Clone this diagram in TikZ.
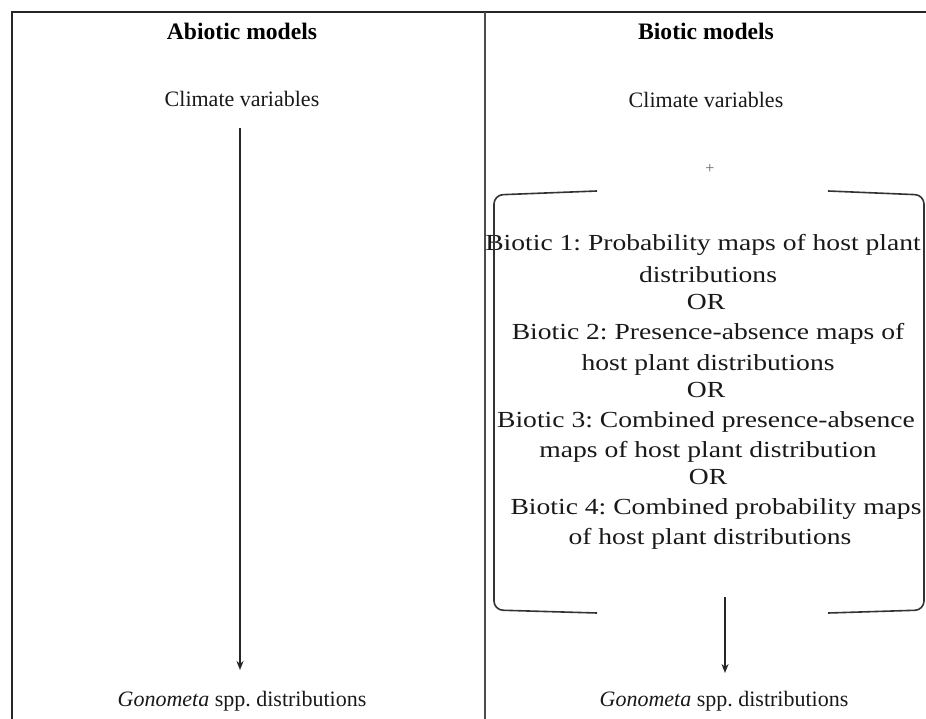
\documentclass[tikz,border=0pt]{standalone}
\usepackage{fontspec}
\setmainfont{Liberation Serif}
\newfontfamily\boxfont[FakeStretch=1.2]{Liberation Serif}
\usetikzlibrary{arrows.meta}
\begin{document}
\frenchspacing
\begin{tikzpicture}[x=1pt,y=-1pt,
  txt/.style={font=\fontsize{22}{26}\selectfont, inner sep=0pt, anchor=base, text=black!90},
  btxt/.style={font=\boxfont\fontsize{23}{26}\selectfont, inner sep=0pt, anchor=base, text=black!90},
  ttl/.style={font=\fontsize{23.6}{26}\selectfont\bfseries, inner sep=0pt, anchor=base},
  frame/.style={line width=2pt, draw=black!85},
  brk/.style={line width=1.6pt, draw=black!80, rounded corners=9pt},
  arr/.style={line width=1.6pt, draw=black!85, -{Stealth[length=9pt,width=7pt]}}]
\useasboundingbox (0,0) rectangle (926,719);
\fill[white] (0,0) rectangle (926,719);
% frame
\draw[frame] (12,719) -- (12,12) -- (926,12);
\draw[line width=1.8pt, draw=black!70] (485,12) -- (485,719);
% titles
\node[ttl] (tA) at (242,40) {Abiotic models};
\node[ttl] (tB) at (706,40) {Biotic models};
% climate
\node[txt] (cA) at (242,107) {Climate variables};
\node[txt] (cB) at (706,108) {Climate variables};
\node[txt, font=\fontsize{16}{18}\selectfont, text=black!60] (plus) at (710,174) {+};
% biotic lines
\node[btxt] (b1a) at (703,251) {Biotic 1: Probability maps of host plant};
\node[btxt] (b1b) at (708,283) {distributions};
\node[btxt] (or1) at (706,309) {OR};
\node[btxt] (b2a) at (708,339) {Biotic 2: Presence-absence maps of};
\node[btxt] (b2b) at (708,370) {host plant distributions};
\node[btxt] (or2) at (706,397) {OR};
\node[btxt] (b3a) at (706,427) {Biotic 3: Combined presence-absence};
\node[btxt] (b3b) at (708,457) {maps of host plant distribution};
\node[btxt] (or3) at (708,484) {OR};
\node[btxt] (b4a) at (716,514) {Biotic 4: Combined probability maps};
\node[btxt] (b4b) at (710,544) {of host plant distributions};
% bracket
\draw[brk] (597,191) -- (494,195) -- (494,610) -- (597,613);
\draw[brk] (828,191) -- (924,195) -- (924,610) -- (828,613);
% gonometa
\node[txt] (gA) at (242,706) {\textit{Gonometa} spp. distributions};
\node[txt] (gB) at (724,706) {\textit{Gonometa} spp. distributions};
% arrows
\coordinate (sA) at (240,128);
\coordinate (eA) at (240,670);
\coordinate (sB) at (725,597);
\coordinate (eB) at (725,673);
\draw[arr] (sA) -- (eA);
\draw[arr] (sB) -- (eB);
\end{tikzpicture}
\end{document}
